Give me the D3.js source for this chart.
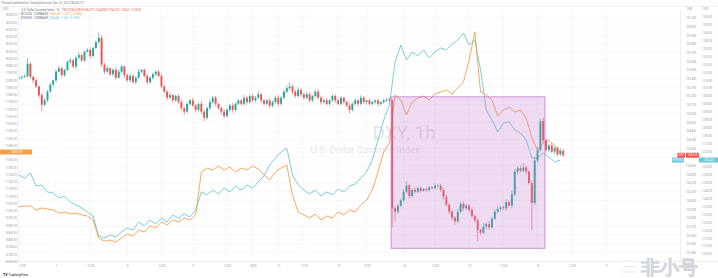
<!DOCTYPE html>
<html>
<head>
<meta charset="utf-8">
<title>DXY vs BTC / ETH</title>
<script src="https://cdn.jsdelivr.net/npm/d3@7"></script>
<style>
body { margin: 0; background: #fff; }
svg text { font-family: Roboto, "Liberation Sans", sans-serif; }
</style>
</head>
<body>
<svg width="718" height="278"></svg>
<script>

// DXY hourly closes (open = previous close)
var dxyFirstOpen = 105.40;
var dxyClose = [
105.41,105.42,105.43,105.57,105.42,105.38,105.31,105.21,105.10,105.15,
105.25,105.33,105.38,105.48,105.52,105.44,105.50,105.59,105.61,105.54,
105.64,105.67,105.61,105.71,105.73,105.66,105.75,105.82,105.87,105.56,
105.48,105.52,105.45,105.50,105.41,105.48,105.54,105.44,105.38,105.43,
105.36,105.41,105.48,105.50,105.43,105.36,105.41,105.45,105.48,105.43,
105.31,105.25,105.18,105.21,105.15,105.20,105.13,105.06,105.02,105.11,
105.15,105.09,105.04,105.11,105.02,104.95,105.06,105.13,105.18,105.11,
105.06,105.02,104.97,105.04,105.09,105.04,105.11,105.15,105.11,105.18,
105.13,105.20,105.15,105.18,105.22,105.15,105.11,105.15,105.09,105.13,
105.18,105.11,105.18,105.25,105.29,105.31,105.25,105.20,105.27,105.22,
105.18,105.22,105.15,105.20,105.25,105.18,105.13,105.15,105.11,105.15,
105.20,105.15,105.11,105.18,105.13,105.09,105.04,105.11,105.15,105.11,
105.18,105.13,105.15,105.11,105.13,105.15,105.11,105.13,105.15,105.16,
105.15,103.91,103.87,103.94,104.00,104.10,104.17,104.05,104.12,104.10,
104.14,104.11,104.13,104.12,104.15,104.14,104.17,104.17,104.12,104.04,
103.95,103.87,103.80,103.76,103.87,103.96,103.91,103.94,103.89,103.82,
103.77,103.66,103.63,103.70,103.73,103.69,103.79,103.87,103.90,103.92,
103.91,103.98,103.94,104.07,104.33,104.37,104.34,104.38,104.33,104.20,
103.97,104.46,104.58,104.91,104.69,104.58,104.63,104.56,104.60,104.53,
104.57,104.52
];
// upper / lower wick length above / below the body, in hundredths
var dxyUp = [
2,1,2,7,2,1,2,1,2,3, 2,2,1,2,3,2,1,2,3,2, 2,3,2,1,2,3,2,2,6,3,
2,3,1,2,3,2,2,1,2,3, 2,2,3,1,2,3,2,2,1,2, 3,2,2,3,1,2,2,3,2,2,
2,3,2,1,3,2,2,3,2,2, 1,2,3,2,2,3,2,1,2,3, 2,2,3,2,4,2,1,2,3,2,
2,3,2,2,3,5,2,2,3,2, 2,3,2,1,2,3,2,2,3,1, 2,2,3,2,1,2,3,2,2,1,
3,2,1,2,2,1,2,1,2,2, 2,1,3,2,2,3,5,2,2,3, 2,2,1,2,2,1,3,2,2,2,
3,2,2,2,3,2,3,2,2,3, 2,3,2,4,2,3,2,2,3,2, 2,3,2,4,3,2,3,5,2,2,
3,4,3,3,4,3,2,3,2,2, 3,2
];
var dxyDown = [
1,2,1,2,2,3,2,3,8,2, 2,1,2,2,1,3,2,1,2,2, 3,2,2,2,1,3,2,1,2,3,
3,2,2,3,2,1,2,3,2,2, 2,3,1,2,2,3,2,2,2,1, 2,2,3,2,3,2,2,3,4,2,
2,2,3,2,3,4,2,2,2,3, 2,3,3,2,2,3,2,2,2,2, 3,2,2,2,2,3,2,2,3,2,
2,3,2,2,2,2,3,2,2,3, 2,2,3,2,2,2,3,2,2,2, 2,3,2,2,3,2,4,2,2,3,
2,2,3,2,2,2,3,2,2,2, 2,22,11,3,2,2,2,3,2,2, 2,2,1,2,2,1,2,2,2,3,
2,3,3,4,2,2,3,2,3,2, 3,13,3,2,3,3,2,2,2,3, 2,3,2,3,2,3,2,2,3,2,
31,3,2,2,3,3,3,2,3,2, 2,2
];

// comparison symbols, one value every 2 bars
var lineStep = 2;
var btcClose = [
17026,17033,17033,17005,17019,17012,17005,16984,16991,16978,
16984,16971,16964,16936,16812,16791,16798,16784,16812,16840,
16826,16867,16853,16895,16881,16922,16902,16936,16922,16950,
16936,16971,17267,17295,17281,17309,17281,17302,17267,17295,
17281,17309,17288,17246,17212,17267,17295,17315,17109,16991,
16971,16950,16978,16936,16964,16950,16991,16971,17005,16991,
17040,17074,17143,17267,17405,17467,17798,17764,17660,17750,
17778,17791,17764,17805,17819,17833,17805,17847,17888,18040,
18233,17819,17798,17764,17653,17695,17715,17681,17695,17640,
17502,17419,17467,17488,17447,17405
];
var ethClose = [
1254.9,1253.0,1256.2,1248.0,1248.6,1244.2,1243.5,1240.4,1241.6,1237.8,
1235.9,1234.1,1231.5,1229.0,1216.3,1215.1,1217.0,1215.7,1218.9,1221.4,
1220.1,1225.2,1222.7,1226.5,1223.9,1227.7,1225.2,1229.6,1227.7,1230.3,
1228.4,1232.8,1244.2,1242.3,1245.4,1242.9,1246.7,1244.2,1248.0,1245.4,
1248.6,1246.7,1250.5,1254.3,1261.3,1265.7,1269.5,1272.0,1254.9,1248.6,
1245.4,1242.9,1245.4,1241.6,1244.2,1242.3,1246.1,1244.2,1248.0,1249.2,
1253.0,1256.8,1264.4,1277.1,1289.7,1299.2,1326.5,1337.2,1327.7,1332.8,
1330.3,1334.1,1329.0,1332.8,1335.3,1334.1,1337.8,1340.4,1344.8,1337.2,
1340.4,1321.4,1296.1,1289.7,1282.2,1287.8,1288.5,1283.4,1281.5,1277.1,
1265.7,1265.7,1268.9,1266.3,1263.2,1264.4
];

// time axis (bar index -> label)
var timeTickBars = [1,13,25,38,50,61,73,82,91,100,112,122,135,146,158,170,182,194,206];
var timeTickLabels = ["12:00","7","12:00","8","12:00","9","12:00","18:00","12","12:00","13","12:00","14","12:00","15","12:00","16","12:00","17"];

// rectangle drawing: bars and DXY prices
var boxBars = [130.6, 184.6];
var boxPrices = [105.19, 103.45];

var svg = d3.select("svg");
var W = 718, H = 278;
var padL = 19, padR = 680, padT = 10, padB = 261.5;

var x = d3.scaleLinear().domain([0, 232]).range([padL, padR]);
var yD = d3.scaleLinear().domain([103.0, 106.2]).range([9 + 87 * 3.2, 9]);
var yB = d3.scaleLinear().domain([16650, 18350]).range([261.5, 15]);
var yE = d3.scaleLinear().domain([1200, 1360]).range([9 + 160 * 1.58, 9]);

var grey = "#9a9ca5";
var up = "#26a69a", down = "#ef5350";
var orange = "#f4a04b", cyan = "#69c9d9";
var fs = 2.8;

var lastD = dxyClose[dxyClose.length - 1];
var lastB = btcClose[btcClose.length - 1];
var lastE = ethClose[ethClose.length - 1];

// header
svg.append("text").attr("x", 2).attr("y", 3.6).attr("font-size", 2.9).attr("fill", "#787b86")
  .text("Printed/published on TradingView.com, Dec 16, 2022 08:04 UTC");
svg.append("line").attr("x1", 0).attr("x2", W).attr("y1", 6.5).attr("y2", 6.5)
  .attr("stroke", "#e6e8ee").attr("stroke-width", 0.6);

// grid
var dxyTicks = d3.range(103.4, 106.15, 0.1);
svg.append("g").selectAll("line").data(dxyTicks).join("line")
  .attr("x1", padL).attr("x2", padR)
  .attr("y1", function(d) { return yD(d); }).attr("y2", function(d) { return yD(d); })
  .attr("stroke", "#f1f2f6").attr("stroke-width", 0.6);
svg.append("g").selectAll("line").data(timeTickBars).join("line")
  .attr("x1", function(d) { return x(d); }).attr("x2", function(d) { return x(d); })
  .attr("y1", padT).attr("y2", padB)
  .attr("stroke", "#f1f2f6").attr("stroke-width", 0.6);

svg.append("clipPath").attr("id", "clip").append("rect")
  .attr("x", padL).attr("y", padT).attr("width", padR - padL).attr("height", padB - padT);
var plot = svg.append("g").attr("clip-path", "url(#clip)");

// watermark
plot.append("text").attr("x", 404).attr("y", 139).attr("text-anchor", "middle")
  .attr("font-size", 19).attr("fill", "#787b86").attr("fill-opacity", 0.22)
  .text("DXY, 1h");
plot.append("text").attr("x", 365).attr("y", 153).attr("text-anchor", "middle")
  .attr("font-size", 9.5).attr("fill", "#787b86").attr("fill-opacity", 0.22)
  .text("U.S. Dollar Currency Index");

// comparison lines
var lineB = d3.line().x(function(d, k) { return x(k * lineStep); }).y(function(d) { return yB(d); });
var lineE = d3.line().x(function(d, k) { return x(k * lineStep); }).y(function(d) { return yE(d); });
plot.append("path").attr("d", lineE(ethClose)).attr("fill", "none").attr("stroke", cyan).attr("stroke-width", 0.9);
plot.append("path").attr("d", lineB(btcClose)).attr("fill", "none").attr("stroke", orange).attr("stroke-width", 0.9);

// candles
var bars = dxyClose.map(function(c, i) {
  var o = i === 0 ? dxyFirstOpen : dxyClose[i - 1];
  return { i: i, o: o, c: c,
    h: Math.max(o, c) + dxyUp[i] / 100,
    l: Math.min(o, c) - dxyDown[i] / 100 };
});
var cg = plot.append("g").selectAll("g").data(bars).join("g");
cg.append("line")
  .attr("x1", function(d) { return x(d.i); }).attr("x2", function(d) { return x(d.i); })
  .attr("y1", function(d) { return yD(d.h); }).attr("y2", function(d) { return yD(d.l); })
  .attr("stroke", function(d) { return d.c >= d.o ? up : down; }).attr("stroke-width", 0.6);
cg.append("rect")
  .attr("x", function(d) { return x(d.i) - 0.95; }).attr("width", 1.9)
  .attr("y", function(d) { return yD(Math.max(d.o, d.c)); })
  .attr("height", function(d) { return Math.max(0.6, Math.abs(yD(d.o) - yD(d.c))); })
  .attr("fill", function(d) { return d.c >= d.o ? up : down; });

// rectangle drawing
plot.append("rect")
  .attr("x", x(boxBars[0])).attr("width", x(boxBars[1]) - x(boxBars[0]))
  .attr("y", yD(boxPrices[0])).attr("height", yD(boxPrices[1]) - yD(boxPrices[0]))
  .attr("fill", "#c47fd2").attr("fill-opacity", 0.27)
  .attr("stroke", "#bb6ccb").attr("stroke-width", 0.7);

// borders
svg.append("line").attr("x1", padR + 0.5).attr("x2", padR + 0.5).attr("y1", padT).attr("y2", padB)
  .attr("stroke", "#e0e3eb").attr("stroke-width", 0.6);
svg.append("line").attr("x1", padL - 0.5).attr("x2", padL - 0.5).attr("y1", padT).attr("y2", padB)
  .attr("stroke", "#e0e3eb").attr("stroke-width", 0.6);
svg.append("line").attr("x1", 0).attr("x2", W).attr("y1", padB).attr("y2", padB)
  .attr("stroke", "#e0e3eb").attr("stroke-width", 0.6);

// axes (labels hidden where a last-value tag sits)
function styleAxis(g) {
  g.select(".domain").remove();
  g.selectAll("line").remove();
  g.selectAll("text").attr("font-size", fs).attr("fill", grey).attr("font-family", null);
}
function notNear(scale, v) {
  return function(d) { return Math.abs(scale(d) - scale(v)) > 4; };
}
svg.append("g").attr("transform", "translate(17,0)")
  .call(d3.axisLeft(yB).tickValues(d3.range(16650, 18351, 50).filter(notNear(yB, lastB)))
    .tickSize(0).tickPadding(0).tickFormat(d3.format(".2f")))
  .call(styleAxis);
svg.append("g").attr("transform", "translate(685,0)")
  .call(d3.axisRight(yD).tickValues(dxyTicks.filter(notNear(yD, lastD)))
    .tickSize(0).tickPadding(1).tickFormat(d3.format(".3f")))
  .call(styleAxis);
svg.append("g").attr("transform", "translate(701,0)")
  .call(d3.axisRight(yE).tickValues(d3.range(1205, 1356, 5).filter(notNear(yE, lastE)))
    .tickSize(0).tickPadding(1).tickFormat(d3.format(".2f")))
  .call(styleAxis);
svg.append("g").attr("transform", "translate(0," + (padB + 2) + ")")
  .call(d3.axisBottom(x).tickValues(timeTickBars).tickSize(0).tickPadding(1.5)
    .tickFormat(function(d, k) { return timeTickLabels[k]; }))
  .call(styleAxis);

// currency labels
[3, 687, 703].forEach(function(px) {
  svg.append("text").attr("x", px).attr("y", 10.3).attr("font-size", fs).attr("fill", grey).text("USD");
});

// legend
var leg = [
  { y: 10.6, name: "U.S. Dollar Currency Index · 1h · TVC", val: "  O104.578 H104.627 L104.495 C104.516 −0.062 (−0.06%)", col: down },
  { y: 15.0, name: "BTCUSD · COINBASE", val: "  17405.00 −14.37 (−0.08%)", col: orange },
  { y: 19.2, name: "ETHUSD · COINBASE", val: "  1264.40 −1.60 (−0.13%)", col: cyan }
];
leg.forEach(function(l) {
  var t = svg.append("text").attr("x", 21).attr("y", l.y).attr("font-size", 2.9);
  t.append("tspan").attr("fill", "#6a6d78").text(l.name);
  t.append("tspan").attr("fill", l.col).text(l.val);
});

// last value labels
function tag(x0, x1, yc, col, txt) {
  svg.append("rect").attr("x", x0).attr("y", yc - 2.5).attr("width", x1 - x0).attr("height", 5)
    .attr("fill", col).attr("rx", 0.6);
  svg.append("text").attr("x", (x0 + x1) / 2).attr("y", yc + 1).attr("text-anchor", "middle")
    .attr("font-size", fs).attr("fill", "#fff").text(txt);
}
tag(0, 32, yB(lastB), orange, d3.format(".2f")(lastB));
tag(672, 684, yE(lastE), cyan, "ETHUSD");
tag(677.5, 685, yD(lastD), down, "DXY");
tag(686, 699, yD(lastD), down, d3.format(".3f")(lastD));
tag(699, 718, yE(lastE), cyan, d3.format(".2f")(lastE));

// footer
var tv = svg.append("text").attr("x", 3).attr("y", 275.5).attr("font-size", 3.6).attr("fill", "#131722");
tv.append("tspan").attr("font-weight", "bold").text("TV ");
tv.append("tspan").text("TradingView");

// site watermark
var wm = svg.append("g").attr("opacity", 0.9);
wm.append("path").attr("d", "M622,261 h15 M624,266.5 h12 M621,272 h17")
  .attr("stroke", "#fff").attr("stroke-width", 2.6).attr("fill", "none");
wm.append("path").attr("d", "M622,261 h15 M624,266.5 h12 M621,272 h17")
  .attr("stroke", "#cfd2d8").attr("stroke-width", 0.5).attr("fill", "none");
wm.append("text").attr("x", 641).attr("y", 274).attr("font-size", 19).attr("font-weight", "bold")
  .attr("font-family", "'Noto Sans CJK SC', sans-serif")
  .attr("fill", "#fff").attr("stroke", "#cfd2d8").attr("stroke-width", 0.6)
  .text("非小号");

</script>
</body>
</html>
